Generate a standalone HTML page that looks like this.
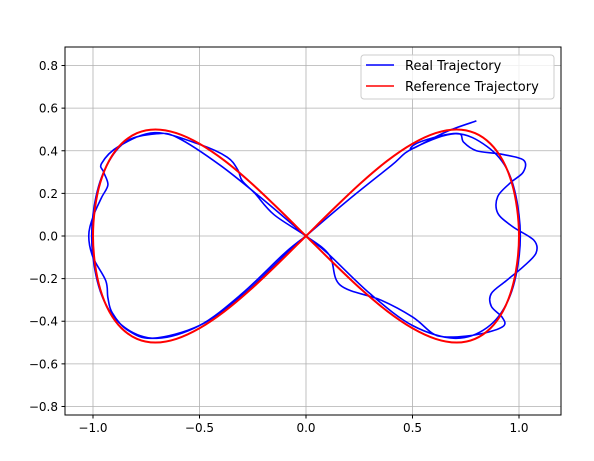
<!DOCTYPE html>
<html><head><meta charset="utf-8"><style>
body{margin:0;background:#fff;}
svg{display:block;font-family:"DejaVu Sans","Liberation Sans",sans-serif;}
</style></head><body>
<svg id="chart" width="594" height="461" viewBox="0 0 594 461">
<rect width="594" height="461" fill="#fff"/>
<g id="grid"></g>
<g id="series"></g>
<rect x="65" y="47" width="496" height="368" fill="none" stroke="#000" stroke-width="1"/>
<g id="ticks"></g>
<g>
<rect x="361" y="55" width="193" height="44" rx="3" fill="#fff" fill-opacity="0.8" stroke="#ccc"/>
<line x1="366" y1="65" x2="394" y2="65" stroke="#0000ff" stroke-width="1.6"/>
<text x="405" y="70" font-size="13">Real Trajectory</text>
<line x1="366" y1="86" x2="394" y2="86" stroke="#ff0000" stroke-width="1.6"/>
<text x="405" y="91" font-size="13">Reference Trajectory</text>
</g>
</svg>
<script>
const xTicks=[-1.0,-0.5,0.0,0.5,1.0];
const xTickLabels=["−1.0","−0.5","0.0","0.5","1.0"];
const yTicks=[-0.8,-0.6,-0.4,-0.2,0.0,0.2,0.4,0.6,0.8];
const yTickLabels=["−0.8","−0.6","−0.4","−0.2","0.0","0.2","0.4","0.6","0.8"];
const refX=[1,.991,.966,.924,.866,.793,.707,.609,.5,.383,.259,.131,0,-.131,-.259,-.383,-.5,-.609,-.707,-.793,-.866,-.924,-.966,-.991,-1,-.991,-.966,-.924,-.866,-.793,-.707,-.609,-.5,-.383,-.259,-.131,0,.131,.259,.383,.5,.609,.707,.793,.866,.924,.966,.991];
const refY=[0,.129,.25,.354,.433,.483,.5,.483,.433,.354,.25,.129,0,-.129,-.25,-.354,-.433,-.483,-.5,-.483,-.433,-.354,-.25,-.129,0,.129,.25,.354,.433,.483,.5,.483,.433,.354,.25,.129,0,-.129,-.25,-.354,-.433,-.483,-.5,-.483,-.433,-.354,-.25,-.129];
const realX=[0.80,0.66,0.50,0.52,0.63,0.72,0.74,0.80,0.91,1.02,1.02,0.96,0.90,0.90,0.97,1.07,1.08,1.02,0.94,0.87,0.87,0.92,0.93,0.86,0.75,0.645,0.59,0.50,0.35,0.16,0.11,0.0,-0.15,-0.24,-0.30,-0.32,-0.37,-0.5,-0.71,-0.88,-0.96,-0.95,-0.93,-0.96,-1.0,-1.02,-1.0,-0.94,-0.93,-0.91,-0.84,-0.72,-0.5,-0.3,-0.1,0,0.2,0.4,0.5,0.7,0.85,0.95,1.0,1.0,0.95,0.85,0.7,0.5,0.3,0.1,0,-0.2,-0.4,-0.6,-0.7,-0.85,-0.95,-1.0,-1.0,-0.95,-0.85,-0.7,-0.5,-0.3,-0.1,0];
const realY=[0.54,0.49,0.41,0.435,0.47,0.48,0.44,0.40,0.385,0.357,0.30,0.25,0.185,0.108,0.044,-0.02,-0.08,-0.144,-0.21,-0.27,-0.33,-0.38,-0.42,-0.45,-0.47,-0.473,-0.454,-0.38,-0.30,-0.23,-0.09,0.0,0.10,0.20,0.26,0.31,0.37,0.43,0.485,0.42,0.34,0.30,0.24,0.18,0.09,0.0,-0.1,-0.21,-0.29,-0.36,-0.44,-0.48,-0.42,-0.28,-0.09,0,0.17,0.33,0.41,0.48,0.42,0.30,0.10,-0.10,-0.30,-0.43,-0.48,-0.42,-0.27,-0.08,0,0.17,0.33,0.46,0.48,0.44,0.30,0.10,-0.10,-0.30,-0.43,-0.48,-0.42,-0.27,-0.08,0];
const L=65,R=561,T=47,B=415;
const xs=v=>306+v*213, ys=v=>236-v*213.1;
const NS="http://www.w3.org/2000/svg";
const grid=document.getElementById('grid'),ticks=document.getElementById('ticks'),series=document.getElementById('series');
function mk(tag,attrs,parent){const e=document.createElementNS(NS,tag);for(const k in attrs)e.setAttribute(k,attrs[k]);parent.appendChild(e);return e;}
xTicks.forEach((v,i)=>{const x=xs(v);
 const g=mk('line',{x1:x,x2:x,y1:T,y2:B,stroke:'#b0b0b0','stroke-width':0.8},grid);
 
 
 const t=mk('line',{x1:x,x2:x,y1:B,y2:B+3.5,stroke:'#000'},ticks);
 
 
 const l=mk('text',{x:x,y:B+17,'font-size':12,'text-anchor':'middle'},ticks);l.textContent=xTickLabels[i];
 
 });
yTicks.forEach((v,i)=>{const y=ys(v);
 const g=mk('line',{x1:L,x2:R,y1:y,y2:y,stroke:'#b0b0b0','stroke-width':0.8},grid);
 
 
 const t=mk('line',{x1:L-3.5,x2:L,y1:y,y2:y,stroke:'#000'},ticks);
 
 
 const l=mk('text',{x:L-7,y:y+4.5,'font-size':12,'text-anchor':'end'},ticks);l.textContent=yTickLabels[i];
 
 });
function smooth(X,Y,closed){const p=X.map((v,i)=>[xs(v),ys(Y[i])]);const n=p.length;let d=`M${p[0][0]},${p[0][1]}`;
 const g=i=>closed?p[(i+n)%n]:p[Math.max(0,Math.min(n-1,i))];const last=closed?n:n-1;
 for(let i=0;i<last;i++){const p0=g(i-1),p1=g(i),p2=g(i+1),p3=g(i+2);
  d+=`C${p1[0]+(p2[0]-p0[0])/6},${p1[1]+(p2[1]-p0[1])/6} ${p2[0]-(p3[0]-p1[0])/6},${p2[1]-(p3[1]-p1[1])/6} ${p2[0]},${p2[1]}`;}
 return d;}
const blue=mk('path',{d:smooth(realX,realY,false),fill:'none',stroke:'#0000ff','stroke-width':1.6,'stroke-linejoin':'round'},series);


const red=mk('path',{d:smooth(refX,refY,true),fill:'none',stroke:'#ff0000','stroke-width':2,'stroke-linejoin':'round'},series);


</script>
</body></html>
